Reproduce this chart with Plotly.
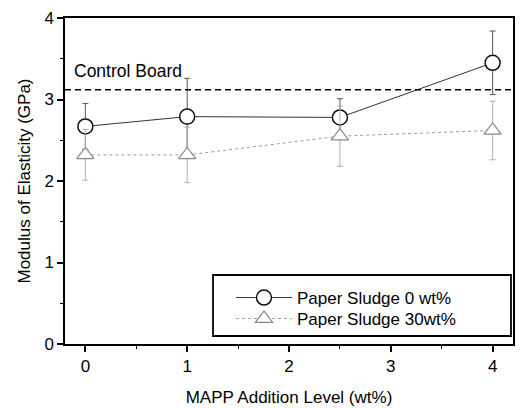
import plotly.graph_objects as go

# MAPP addition levels (wt%)
mapp_level = [0, 1, 2.5, 4]

# Modulus of elasticity (GPa) and standard deviations
moe_sludge0 = [2.67, 2.79, 2.78, 3.45]
err_sludge0 = [0.28, 0.47, 0.23, 0.39]
moe_sludge30 = [2.32, 2.32, 2.55, 2.62]
err_sludge30 = [0.31, 0.34, 0.37, 0.36]

control_board = 3.12
control_label = "Control Board"

name0 = "Paper Sludge 0 wt%"
name30 = "Paper Sludge 30wt%"

FONT = "Liberation Sans, Arial, sans-serif"

fig = go.Figure()

fig.add_trace(go.Scatter(
    x=mapp_level, y=moe_sludge0, name=name0, legend="legend",
    mode="lines+markers",
    line=dict(color="#333333", width=1),
    marker=dict(symbol="circle", size=15, color="white",
                line=dict(color="#111111", width=1.5)),
    error_y=dict(type="data", array=err_sludge0, visible=True,
                 color="#555555", thickness=1, width=3),
))

fig.add_trace(go.Scatter(
    x=mapp_level, y=moe_sludge30, name=name30, legend="legend2",
    mode="lines+markers",
    line=dict(color="#9a9a9a", width=1, dash="dot"),
    marker=dict(symbol="triangle-up", size=15, color="white",
                line=dict(color="#8a8a8a", width=1.2)),
    error_y=dict(type="data", array=err_sludge30, visible=True,
                 color="#b0b0b0", thickness=1, width=3),
))

# control board reference level
fig.add_shape(type="line", xref="paper", yref="y", x0=0, x1=1,
              y0=control_board, y1=control_board,
              line=dict(color="black", width=1.5, dash="6px,4px"))
fig.add_annotation(x=-0.13, y=3.35, xref="x", yref="y", text=control_label,
                   showarrow=False, xanchor="left", yanchor="middle",
                   font=dict(size=17.5, color="black", family=FONT))

# frame around the legend entries
fig.add_shape(type="rect", xref="paper", yref="paper",
              x0=0.3304, x1=0.9955, y0=0.0245, y1=0.2117,
              line=dict(color="black", width=1.8), fillcolor="white",
              layer="above")

axis_common = dict(
    showline=True, linecolor="black", linewidth=1.5, mirror=True,
    ticks="outside", ticklen=6, tickwidth=1.5, tickcolor="black",
    showgrid=False, zeroline=False, automargin=False,
    tickfont=dict(size=17, color="black", family=FONT),
)

fig.update_xaxes(
    range=[-0.2, 4.2], tickmode="array", tickvals=[0, 1, 2, 3, 4],
    minor=dict(dtick=0.5, tick0=0, ticks="outside", ticklen=3,
               tickwidth=1, tickcolor="black"),
    title=dict(text="MAPP Addition Level (wt%)", standoff=16,
               font=dict(size=17, color="black", family=FONT)),
    **axis_common,
)
fig.update_yaxes(
    range=[0, 4], tickmode="array", tickvals=[0, 1, 2, 3, 4],
    minor=dict(dtick=0.5, tick0=0, ticks="outside", ticklen=3,
               tickwidth=1, tickcolor="black"),
    title=dict(text="Modulus of Elasticity (GPa)", standoff=9,
               font=dict(size=17, color="black", family=FONT)),
    **axis_common,
)

legend_style = dict(xanchor="left", yanchor="top", borderwidth=0,
                    bgcolor="rgba(0,0,0,0)", itemwidth=56,
                    font=dict(size=17, color="black", family=FONT))

fig.update_layout(
    width=520, height=408,
    margin=dict(l=65, r=7, t=18, b=64),
    plot_bgcolor="white", paper_bgcolor="white",
    font=dict(family=FONT, color="black"),
    showlegend=True,
    legend=dict(x=0.3705, y=0.1963, **legend_style),
    legend2=dict(x=0.3705, y=0.1319, **legend_style),
)

fig.write_html("out.html")
